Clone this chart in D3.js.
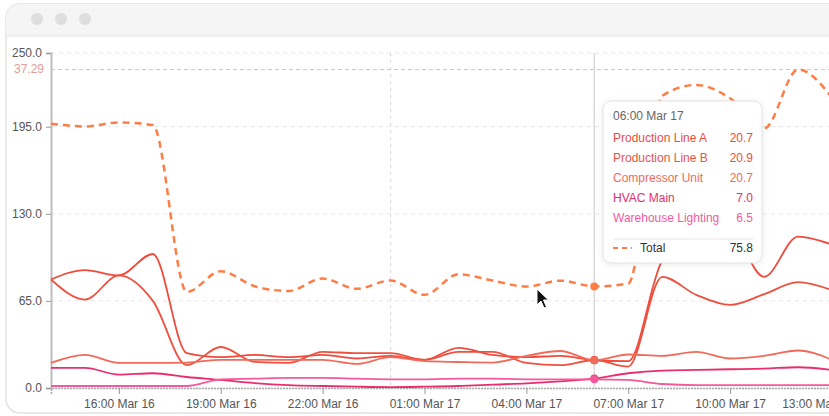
<!DOCTYPE html>
<html>
<head>
<meta charset="utf-8">
<script src="https://cdn.jsdelivr.net/npm/d3@7"></script>
<style>
  body { margin: 0; background: #fff; font-family: "Liberation Sans", Arial, sans-serif; }
</style>
</head>
<body>
<div id="chart"></div>
<script>
// Hourly readings (kW), 14:00 Mar 16 to 13:00 Mar 17
var hours = [
  "2024-03-16 14:00", "2024-03-16 15:00", "2024-03-16 16:00", "2024-03-16 17:00",
  "2024-03-16 18:00", "2024-03-16 19:00", "2024-03-16 20:00", "2024-03-16 21:00",
  "2024-03-16 22:00", "2024-03-16 23:00", "2024-03-17 00:00", "2024-03-17 01:00",
  "2024-03-17 02:00", "2024-03-17 03:00", "2024-03-17 04:00", "2024-03-17 05:00",
  "2024-03-17 06:00", "2024-03-17 07:00", "2024-03-17 08:00", "2024-03-17 09:00",
  "2024-03-17 10:00", "2024-03-17 11:00", "2024-03-17 12:00", "2024-03-17 13:00"
];
var productionA = [81, 88, 84, 100, 26, 23, 24.7, 23, 24.7, 22, 24, 21, 30, 24.7, 23, 24, 20.7, 20, 95, 114, 116, 83, 113, 107];
var productionB = [81, 66, 84, 65, 17, 30.6, 19.5, 18.7, 27, 26, 26, 21, 27, 27, 18.7, 17, 20.9, 16, 83, 69.5, 62, 70, 79, 73];
var compressor = [18.7, 24.7, 18.7, 18.7, 19, 21, 21, 21, 21, 18, 23, 20, 19.4, 19, 24, 27.6, 20.7, 25, 24, 27, 22, 24, 28, 21];
var hvacMain = [15, 15, 10, 11, 8.2, 6, 3.7, 2.2, 1.5, 1, 0.7, 1, 1.5, 2.5, 3.5, 5, 7.0, 11, 13, 13.5, 14, 14.5, 15.5, 13.5];
var lighting = [1.5, 1.5, 1.5, 1.5, 1.5, 6.5, 7, 7.5, 7.5, 7, 6.5, 6.5, 7, 7, 6.5, 6.5, 6.5, 6, 3, 2.2, 2.2, 2.2, 2.2, 2.2];

var seriesNames = ["Production Line A", "Production Line B", "Compressor Unit", "HVAC Main", "Warehouse Lighting"];
var seriesColors = ["#ef4a3c", "#f0503f", "#f26a5a", "#ea2d6c", "#f7589c"];
var seriesValues = [productionA, productionB, compressor, hvacMain, lighting];
var totalColor = "#ff7d45";

var yTicks = [0, 65, 130, 195, 250];
var xTickHours = [
  "2024-03-16 16:00", "2024-03-16 19:00", "2024-03-16 22:00", "2024-03-17 01:00",
  "2024-03-17 04:00", "2024-03-17 07:00", "2024-03-17 10:00", "2024-03-17 13:00"
];
var refLabel = "37.29";
var hoverIndex = 16;

var svgWidth = 829;
var svgHeight = 416;

var parseTime = d3.timeParse("%Y-%m-%d %H:%M");
var times = hours.map(parseTime);

// Total is the sum of the five meters at each hour
var totals = times.map((t, i) => d3.sum(seriesValues, (s) => s[i]));

var svg = d3
  .select("#chart")
  .append("svg")
  .attr("width", svgWidth)
  .attr("height", svgHeight);

// Window frame
svg.append("clipPath").attr("id", "frameClip")
  .append("rect").attr("x", 6).attr("y", 4).attr("width", 900).attr("height", 409).attr("rx", 14);

svg.append("rect")
  .attr("x", 6).attr("y", 4).attr("width", 900).attr("height", 409).attr("rx", 14)
  .attr("fill", "#fff").attr("stroke", "#e2e2e2").attr("stroke-width", 1.5);

svg.append("rect")
  .attr("clip-path", "url(#frameClip)")
  .attr("x", 6).attr("y", 4).attr("width", 900).attr("height", 32)
  .attr("fill", "#f5f5f5");

svg.append("line")
  .attr("x1", 6).attr("x2", 829).attr("y1", 36).attr("y2", 36)
  .attr("stroke", "#e4e4e4");

svg.selectAll(".dot-btn")
  .data([37, 61, 85])
  .enter()
  .append("circle")
  .attr("cx", (d) => d).attr("cy", 19).attr("r", 6)
  .attr("fill", "#dedede");

// Scales
var xScale = d3.scaleTime().domain(d3.extent(times)).range([51, 832]);
var yScale = d3.scaleLinear().domain([0, 250]).range([388, 53]);

var plot = svg.append("g");

// Horizontal grid
plot.selectAll(".hgrid")
  .data(yTicks)
  .enter()
  .append("line")
  .attr("x1", 51).attr("x2", 829)
  .attr("y1", (d) => yScale(d)).attr("y2", (d) => yScale(d))
  .attr("stroke", "#e6e6e6").attr("stroke-dasharray", "4,4");

// Day boundary
var midnight = parseTime("2024-03-17 00:00");
plot.append("line")
  .attr("x1", xScale(midnight)).attr("x2", xScale(midnight))
  .attr("y1", 53).attr("y2", 388)
  .attr("stroke", "#dcdcdc").attr("stroke-dasharray", "3,4").attr("stroke-width", 1.2);

// Peak reference line
var peak = d3.max(totals);
plot.append("line")
  .attr("x1", 51).attr("x2", 829)
  .attr("y1", yScale(peak)).attr("y2", yScale(peak))
  .attr("stroke", "#efb9b9").attr("stroke-dasharray", "4,3");

plot.append("text")
  .attr("x", 44).attr("y", yScale(peak) + 4)
  .attr("text-anchor", "end")
  .attr("font-size", 12).attr("fill", "#e29b9b")
  .text(refLabel);

// Hover guide
plot.append("line")
  .attr("x1", xScale(times[hoverIndex])).attr("x2", xScale(times[hoverIndex]))
  .attr("y1", 53).attr("y2", 388)
  .attr("stroke", "#dadada").attr("stroke-width", 1.5);

// Axes
var leftAxis = d3.axisLeft(yScale).tickValues(yTicks).tickFormat(d3.format(".1f")).tickSize(5);
var yAxisG = plot.append("g").attr("transform", "translate(51,0)").call(leftAxis);
yAxisG.select(".domain").attr("stroke", "#bdbdbd").attr("stroke-width", 2);
yAxisG.selectAll(".tick line").attr("stroke", "#999");
yAxisG.selectAll(".tick text").attr("font-size", 12).attr("fill", "#555")
  .attr("font-family", "Liberation Sans, Arial, sans-serif").attr("dx", -1);

var bottomAxis = d3.axisBottom(xScale)
  .tickValues(xTickHours.map(parseTime))
  .tickFormat(d3.timeFormat("%H:%M %b %d"))
  .tickSizeOuter(0)
  .tickSize(6);
var xAxisG = plot.append("g").attr("transform", "translate(0,388)").call(bottomAxis);
xAxisG.select(".domain").attr("stroke", "#a8a8a8").attr("stroke-width", 1.5).attr("stroke-dasharray", "2,1");
xAxisG.selectAll(".tick line").attr("stroke", "#999");
xAxisG.selectAll(".tick text").attr("font-size", 12).attr("fill", "#555")
  .attr("font-family", "Liberation Sans, Arial, sans-serif").attr("dy", "0.9em");
xAxisG.selectAll(".tick").filter((d) => xScale(d) > 800).select("text").attr("dx", -15);

// Lines
var lineFor = (values) =>
  d3.line()
    .x((d, i) => xScale(times[i]))
    .y((d) => yScale(d))
    .curve(d3.curveMonotoneX)(values);

plot.selectAll(".series")
  .data(seriesValues)
  .enter()
  .append("path")
  .attr("d", (d) => lineFor(d))
  .attr("fill", "none")
  .attr("stroke", (d, i) => seriesColors[i])
  .attr("stroke-width", 1.8);

plot.append("path")
  .attr("d", lineFor(totals))
  .attr("fill", "none")
  .attr("stroke", totalColor)
  .attr("stroke-width", 2.5)
  .attr("stroke-dasharray", "7,5");

// Hover dots
plot.selectAll(".hdot")
  .data(seriesValues)
  .enter()
  .append("circle")
  .attr("cx", xScale(times[hoverIndex]))
  .attr("cy", (d) => yScale(d[hoverIndex]))
  .attr("r", 4)
  .attr("fill", (d, i) => seriesColors[i]);

plot.append("circle")
  .attr("cx", xScale(times[hoverIndex]))
  .attr("cy", yScale(totals[hoverIndex]))
  .attr("r", 4)
  .attr("fill", totalColor);

// Tooltip
var tip = svg.append("g").attr("transform", "translate(603,101)");
tip.append("rect")
  .attr("width", 159).attr("height", 162).attr("rx", 8)
  .attr("fill", "#fff").attr("stroke", "#e3e3e3")
  .style("filter", "drop-shadow(0 1px 3px rgba(0,0,0,0.08))");

tip.append("text")
  .attr("x", 10).attr("y", 19)
  .attr("font-size", 12).attr("fill", "#666")
  .text(d3.timeFormat("%H:%M %b %d")(times[hoverIndex]));

var rows = tip.selectAll(".row")
  .data(seriesNames)
  .enter()
  .append("g")
  .attr("transform", (d, i) => `translate(0, ${41 + i * 20})`);

rows.append("text")
  .attr("x", 10)
  .attr("font-size", 12)
  .attr("fill", (d, i) => seriesColors[i])
  .text((d) => d);

rows.append("text")
  .attr("x", 150)
  .attr("text-anchor", "end")
  .attr("font-size", 12)
  .attr("fill", (d, i) => seriesColors[i])
  .text((d, i) => seriesValues[i][hoverIndex].toFixed(1));

tip.append("line")
  .attr("x1", 10).attr("x2", 150).attr("y1", 138).attr("y2", 138)
  .attr("stroke", "#e6e6e6");

tip.append("line")
  .attr("x1", 10).attr("x2", 29).attr("y1", 147).attr("y2", 147)
  .attr("stroke", totalColor).attr("stroke-width", 2).attr("stroke-dasharray", "5,4");

tip.append("text")
  .attr("x", 37).attr("y", 151)
  .attr("font-size", 12).attr("fill", "#333")
  .text("Total");

tip.append("text")
  .attr("x", 150).attr("y", 151)
  .attr("text-anchor", "end")
  .attr("font-size", 12).attr("fill", "#333")
  .text(totals[hoverIndex].toFixed(1));

// Mouse pointer
svg.append("path")
  .attr("transform", "translate(537,289)")
  .attr("d", "M0,0 L0,16 L4,12 L7,19 L9.5,18 L6.5,11 L11.5,11 Z")
  .attr("fill", "#111").attr("stroke", "#fff").attr("stroke-width", 1);
</script>
</body>
</html>
